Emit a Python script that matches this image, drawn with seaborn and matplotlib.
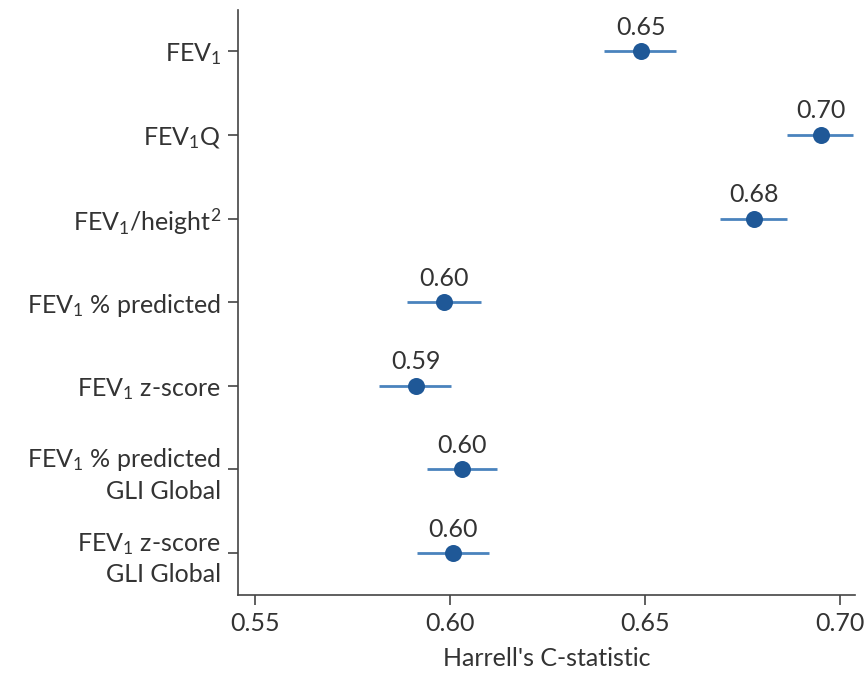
import matplotlib
matplotlib.use("Agg")
import matplotlib.pyplot as plt
import seaborn as sns
import pandas as pd

labels = [
    "FEV$_1$",
    "FEV$_1$Q",
    "FEV$_1$/height$^2$",
    "FEV$_1$ % predicted",
    "FEV$_1$ z-score",
    "FEV$_1$ % predicted\nGLI Global",
    "FEV$_1$ z-score\nGLI Global",
]
cstat = [0.649, 0.695, 0.678, 0.5985, 0.5913, 0.6031, 0.6008]
ci_low = [0.6395, 0.6864, 0.6692, 0.589, 0.5818, 0.5941, 0.5915]
ci_high = [0.658, 0.7033, 0.6864, 0.608, 0.6003, 0.6121, 0.610]
value_text = ["0.65", "0.70", "0.68", "0.60", "0.59", "0.60", "0.60"]

df = pd.DataFrame({"label": labels, "c": cstat, "lo": ci_low, "hi": ci_high})

sns.set_theme(style="ticks")
plt.rcParams["font.family"] = ["Lato", "DejaVu Sans"]
plt.rcParams["mathtext.fontset"] = "custom"
plt.rcParams["mathtext.rm"] = "Lato"
plt.rcParams["mathtext.it"] = "Lato"
plt.rcParams["mathtext.default"] = "regular"

text_col = "#333333"
dot_col = "#1f5897"
line_col = "#4a83bd"
fs = 18

fig = plt.figure(figsize=(8.68, 6.83), dpi=100)
ax = fig.add_axes([0.274, 0.129, 0.711, 0.856])

ypos = list(range(len(labels)))
ax.hlines(ypos, df["lo"], df["hi"], color=line_col, lw=2, zorder=2)
sns.scatterplot(x=df["c"], y=ypos, ax=ax, s=150, color=dot_col, edgecolor=dot_col,
                linewidth=0, zorder=3, legend=False)
for y, x, t in zip(ypos, df["c"], value_text):
    ax.annotate(t, (x, y), xytext=(0, 9), textcoords="offset points",
                ha="center", va="bottom", fontsize=fs, color=text_col)

ax.set_yticks(ypos)
ax.set_yticklabels(labels, fontsize=fs, color=text_col, linespacing=1.35)
ax.set_ylim(6.5, -0.49)
ax.set_xlim(0.5456, 0.7038)
ax.set_xticks([0.55, 0.60, 0.65, 0.70])
ax.set_xticklabels(["0.55", "0.60", "0.65", "0.70"], fontsize=fs, color=text_col)
ax.set_xlabel("Harrell's C-statistic", fontsize=fs, color=text_col, labelpad=9)
ax.set_ylabel("")
for s in ["top", "right"]:
    ax.spines[s].set_visible(False)
for s in ["left", "bottom"]:
    ax.spines[s].set_color("#444444")
    ax.spines[s].set_linewidth(1.2)
ax.tick_params(axis="both", colors="#444444", length=7, width=1.2, labelcolor=text_col, pad=5)

fig.savefig("out.png", dpi=100)
